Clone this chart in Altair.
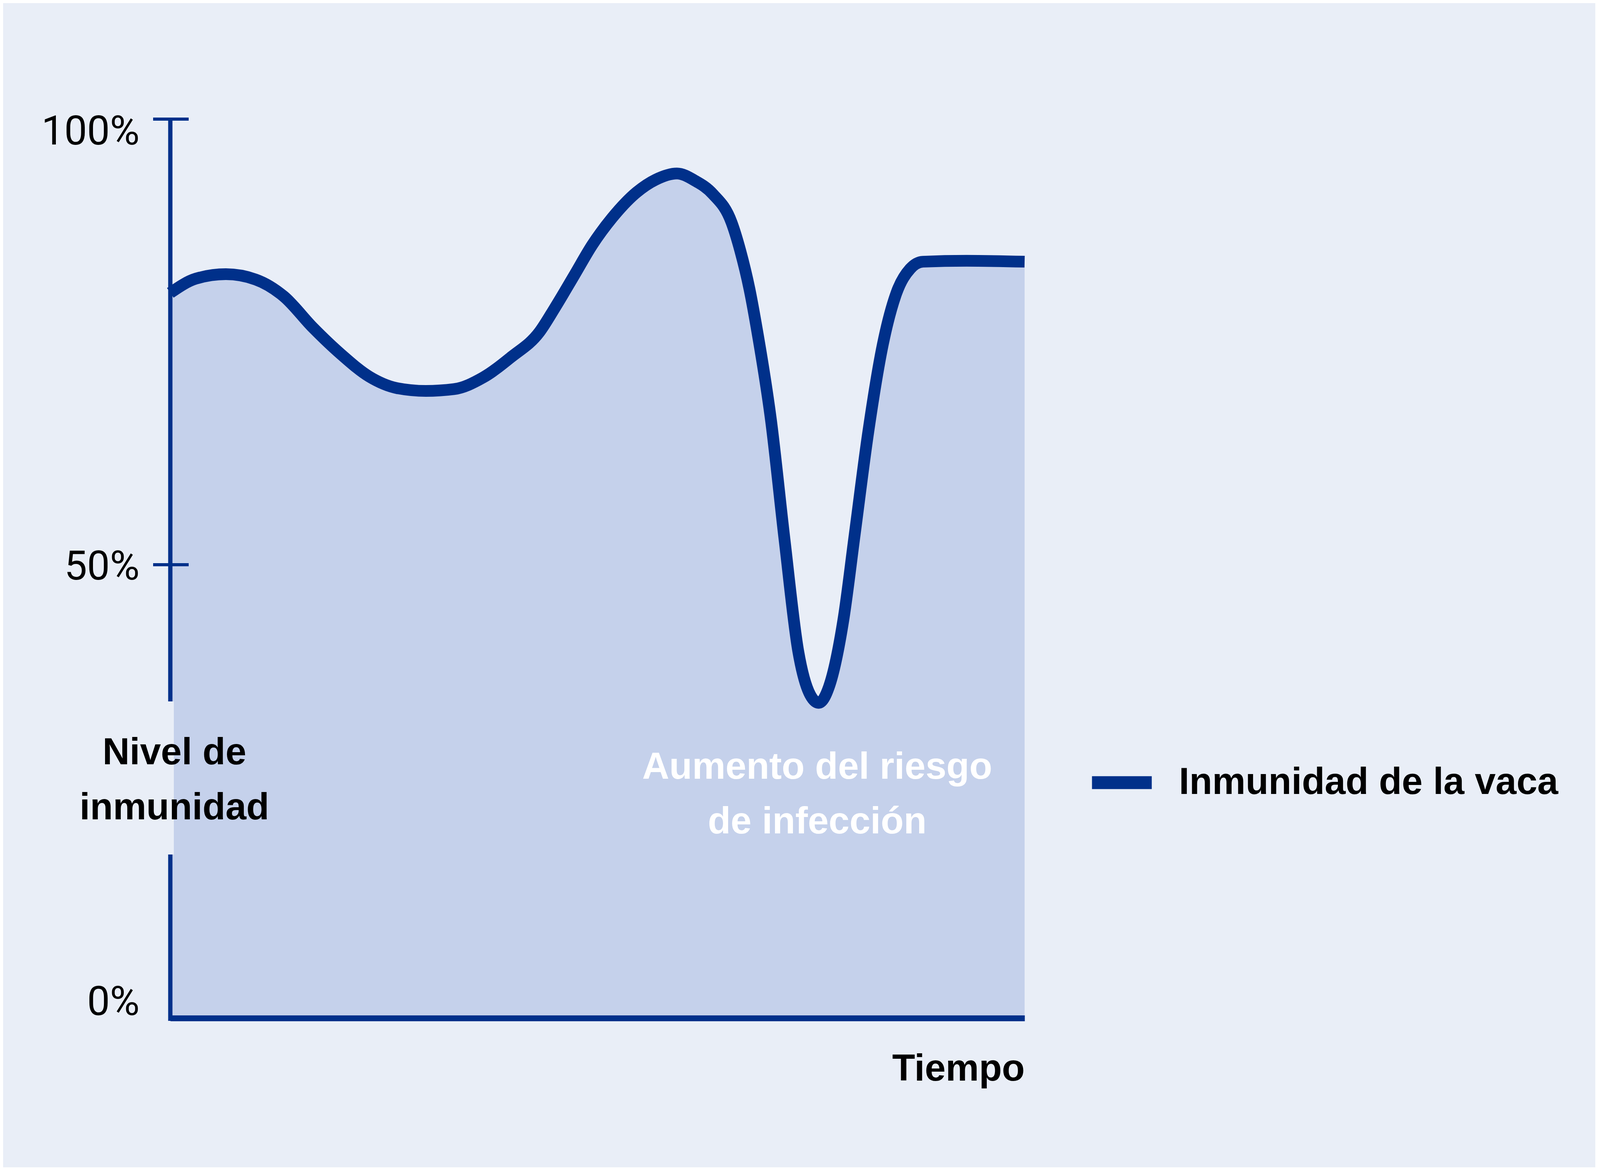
import altair as alt
import pandas as pd

# ---- data ----
tiempo = [0, 3.0, 6.5, 10.0, 13.3, 16.7, 20.0, 23.3, 26.6, 29.9, 33.2, 36.6, 39.9,
          43.2, 45.0, 47.3, 49.4, 51.7, 54.6, 56.8, 59.3, 61.4, 63.5, 65.7, 66.7,
          67.8, 68.7, 70.3, 71.9, 73.5, 74.9, 75.9, 77.1, 78.8, 80.1, 81.7, 83.4, 85.0,
          86.6, 88.1, 93.2, 100]
inmunidad = [80.5, 82.1, 82.6, 82.0, 80.1, 76.6, 73.6, 71.1, 69.8, 69.5, 69.7, 71.0, 73.3,
             76.1, 78.8, 82.5, 85.9, 88.9, 91.8, 93.2, 93.9, 93.1, 91.6, 88.4, 85.3,
             80.9, 76.2, 66.3, 52.8, 40.3, 35.4, 34.5, 36.3, 43.9, 53.3, 64.9, 74.7, 80.5,
             83.2, 84.0, 84.1, 84.0]
serie_nombre = "Inmunidad de la vaca"
ticks_y = [0, 50, 100]
ticks_marcados = [50, 100]
titulo_y = ["Nivel de", "inmunidad"]
titulo_x = "Tiempo"
anotacion = ["Aumento del riesgo", "de infección"]

# ---- styles ----
BG = "#e9eef7"
FILL = "#c5d1eb"
AZUL = "#00308a"
W, H = 2187, 2282
BOLD = "Liberation Sans"
FS = 96

df = pd.DataFrame({"tiempo": tiempo, "inmunidad": inmunidad, "serie": serie_nombre})

x = alt.X(
    "tiempo:Q",
    scale=alt.Scale(domain=[0, 100], nice=False, zero=False),
    axis=alt.Axis(
        domain=True, domainColor=AZUL, domainWidth=15, ticks=False, labels=False,
        grid=False, offset=20, zindex=1,
        title=titulo_x, titleFont=BOLD, titleFontWeight="bold", titleFontSize=FS,
        titleColor="#000000", titleY=159, titleAnchor="end", titleAlign="right",
        titleBaseline="alphabetic", titleAngle=0, titleLimit=0,
    ),
)
y = alt.Y(
    "inmunidad:Q",
    scale=alt.Scale(domain=[0, 100], nice=False),
    axis=alt.Axis(
        values=ticks_y, labelExpr="datum.value + '%'", domain=False, ticks=False,
        grid=False, labelFont="Roboto", labelFontSize=104, labelColor="#000000",
        labelPadding=79, labelBaseline="alphabetic", labelFlush=False,
        labelOverlap=False, labelLimit=0, zindex=1,
        labelOffset={"condition": [
            {"test": "datum.value == 100", "value": 64},
            {"test": "datum.value == 0", "value": 11},
        ], "value": 37},
        title=titulo_y, titleAngle=0, titleX=10, titleY=1651, titleAlign="center",
        titleBaseline="alphabetic", titleFont=BOLD, titleFontWeight="bold",
        titleFontSize=FS, titleColor="#000000", titleLineHeight=141, titleLimit=0,
    ),
)

area = alt.Chart(df).mark_area(color=FILL, interpolate="monotone").encode(
    x=x, y=y, y2=alt.datum(-0.9)
)

linea = alt.Chart(df).mark_line(strokeWidth=30, interpolate="monotone", strokeCap="butt").encode(
    x=x, y=y,
    color=alt.Color(
        "serie:N",
        scale=alt.Scale(range=[AZUL]),
        legend=alt.Legend(
            title=None, orient="none", legendX=2343, legendY=1606,
            symbolType="stroke", symbolSize=23409, symbolStrokeWidth=33,
            labelFont=BOLD, labelFontWeight="bold", labelFontSize=FS,
            labelColor="#000000", labelOffset=53, padding=0, labelLimit=0,
        ),
    ),
)

one = pd.DataFrame({"k": [0]})

hueco = alt.Chart(one).mark_rect(color=BG).encode(
    x=alt.value(-7), x2=alt.value(9), y=alt.value(1491), y2=alt.value(1883)
)
eje_sup = alt.Chart(one).mark_rule(color=AZUL, strokeWidth=11, strokeCap="butt").encode(
    x=alt.value(0), y=alt.value(0), y2=alt.value(1491)
)
eje_inf = alt.Chart(one).mark_rule(color=AZUL, strokeWidth=11, strokeCap="butt").encode(
    x=alt.value(0), y=alt.value(1883), y2=alt.value(H + 27)
)
marcas = alt.Chart(pd.DataFrame({"inmunidad": ticks_marcados})).mark_rule(
    color=AZUL, strokeWidth=8, strokeCap="butt"
).encode(y=alt.Y("inmunidad:Q"), x=alt.value(-44), x2=alt.value(47))

texto = alt.Chart(one).mark_text(
    text=anotacion, font=BOLD, fontWeight="bold", fontSize=FS, color="#ffffff",
    align="center", baseline="alphabetic", lineHeight=140,
).encode(x=alt.value(1656), y=alt.value(1689))

chart = alt.layer(area, linea, hueco, eje_sup, eje_inf, marcas, texto).properties(
    width=W, height=H,
    autosize=alt.AutoSizeParams(type="none"),
    padding={"left": 428, "top": 297, "right": 1461, "bottom": 402},
).configure(background=BG).configure_view(stroke=None)

chart.save("out.html", embed_options={"renderer": "svg", "actions": False})
